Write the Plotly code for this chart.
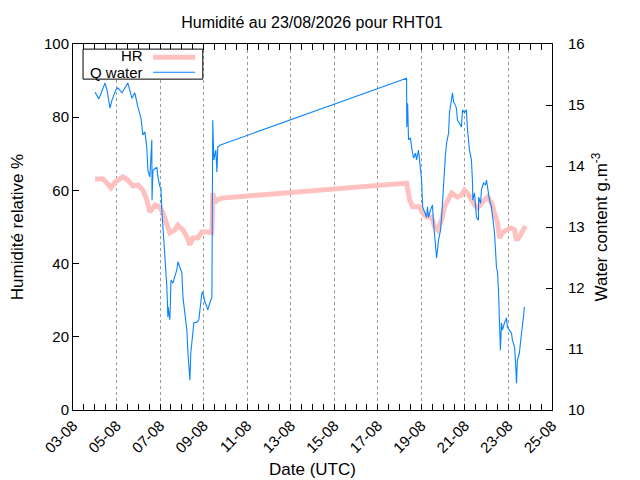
import numpy as np
import pandas as pd
import plotly.graph_objects as go

# jours d'aout (decimal) et valeurs
hr_day = [4.01, 4.38, 4.56, 4.74, 4.93, 5.29, 5.52, 5.75, 5.98, 6.21, 6.39, 6.53, 6.76,
          6.99, 7.13, 7.31, 7.45, 7.68, 7.82, 8.05, 8.23, 8.37, 8.50, 8.73, 8.92, 9.19,
          9.38, 9.42, 9.51, 9.61, 9.83,
          18.32, 18.37, 18.46, 18.60, 18.78, 18.92, 19.06, 19.24, 19.47, 19.61, 19.74,
          19.93, 20.06, 20.20, 20.39, 20.52, 20.66, 20.84, 20.98, 21.12, 21.30, 21.44,
          21.58, 21.76, 21.90, 22.04, 22.22, 22.36, 22.50, 22.59, 22.72, 22.91, 23.14,
          23.28, 23.37, 23.50, 23.64, 23.78]
hr = [63.1, 63.1, 62.0, 60.7, 62.3, 63.7, 62.8, 61.2, 61.5, 60.1, 57.4, 54.1, 56.0,
      55.5, 53.8, 51.1, 48.4, 49.2, 50.5, 49.2, 47.3, 45.1, 47.0, 47.0, 48.6, 48.6,
      48.4, 59.3, 56.6, 57.4, 57.9,
      62.0, 59.3, 57.4, 55.5, 55.5, 55.5, 53.8, 52.7, 52.7, 50.0, 49.2,
      51.9, 55.5, 57.4, 59.3, 58.7, 58.2, 58.7, 60.1, 59.3, 57.4, 56.0,
      55.2, 56.6, 57.4, 58.2, 56.6, 53.8, 51.1, 47.0, 48.4, 49.2, 49.7,
      49.2, 46.4, 47.3, 49.2, 50.3]

q_day = [4.01, 4.19, 4.47, 4.56, 4.70, 4.79, 4.97, 5.06, 5.25, 5.52, 5.71, 5.84, 5.98,
         6.12, 6.21, 6.30, 6.39, 6.44, 6.53, 6.62, 6.63, 6.67, 6.85, 6.90, 6.99, 7.04,
         7.08, 7.13, 7.22, 7.31, 7.36, 7.37, 7.45, 7.50, 7.59, 7.68, 7.77, 7.82, 7.91,
         8.00, 8.05, 8.14, 8.23, 8.28, 8.37, 8.41, 8.46, 8.55, 8.69, 8.78, 8.83, 8.92,
         8.96, 9.06, 9.15, 9.19, 9.28, 9.38, 9.39, 9.42, 9.47, 9.56, 9.61, 9.65, 9.74,
         18.32, 18.33, 18.37, 18.41, 18.50, 18.55, 18.60, 18.64, 18.73, 18.78, 18.87,
         18.92, 19.01, 19.06, 19.15, 19.24, 19.28, 19.33, 19.42, 19.51, 19.56, 19.65,
         19.70, 19.79, 19.88, 19.93, 19.97, 20.02, 20.11, 20.16, 20.25, 20.29, 20.39,
         20.43, 20.48, 20.52, 20.61, 20.66, 20.75, 20.84, 20.89, 20.98, 21.07, 21.12,
         21.21, 21.30, 21.35, 21.36, 21.44, 21.49, 21.53, 21.62, 21.63, 21.72, 21.76,
         21.85, 21.94, 21.99, 22.08, 22.13, 22.22, 22.27, 22.36, 22.45, 22.50, 22.54,
         22.59, 22.63, 22.68, 22.72, 22.82, 22.91, 22.95, 23.05, 23.14, 23.18, 23.28,
         23.32, 23.37, 23.41, 23.50, 23.60, 23.64, 23.69, 23.73]
q_water = [15.21, 15.10, 15.36, 15.25, 14.95, 15.08, 15.25, 15.28, 15.20, 15.36, 15.11, 15.20, 14.97,
           14.79, 14.51, 14.56, 14.31, 13.93, 13.82, 14.43, 13.44, 13.93, 13.98, 13.82, 13.66, 13.64,
           13.28, 13.00, 12.62, 12.02, 11.52, 11.69, 11.48, 12.13, 12.08, 12.18, 12.30, 12.43, 12.34,
           12.25, 11.85, 11.52, 11.31, 10.93, 10.49, 10.93, 11.15, 11.43, 11.44, 11.48, 11.64, 11.92,
           11.93, 11.77, 11.69, 11.64, 11.75, 11.85, 12.62, 14.75, 14.10, 14.26, 13.90, 14.31, 14.34,
           15.44, 14.64, 15.03, 14.43, 14.46, 14.31, 14.18, 14.13, 14.21, 14.10, 14.26,
           14.10, 13.77, 13.33, 13.23, 13.16, 13.33, 13.16, 13.28, 13.36, 13.07, 12.74,
           12.49, 12.79, 12.95, 13.16, 13.44, 13.82, 14.21, 14.38, 14.54, 14.87, 15.11,
           15.20, 15.05, 15.03, 14.95, 14.75, 14.70, 14.64, 14.92, 14.87, 14.92, 14.59,
           14.26, 14.10, 13.72, 13.44, 13.56, 13.33, 13.16, 13.11, 13.49, 13.39, 13.61,
           13.72, 13.69, 13.77, 13.56, 13.44, 13.33, 13.16, 12.90, 12.34, 12.25, 11.97,
           11.48, 10.98, 11.43, 11.31, 11.43, 11.51, 11.36, 11.31, 11.26, 11.15, 11.03,
           10.82, 10.44, 10.82, 10.93, 11.26, 11.36, 11.52, 11.69]

base = pd.Timestamp("2026-08-01")
hr_t = base + pd.to_timedelta(np.array(hr_day) - 1, unit="D")
q_t = base + pd.to_timedelta(np.array(q_day) - 1, unit="D")

font = "Liberation Sans, Arial, sans-serif"
pink = "#ffc0c0"
blue = "#0a84ff"
tickfont = dict(family=font, size=15, color="black")
keyfont = dict(family=font, size=15, color="black")

fig = go.Figure()
fig.add_trace(go.Scatter(x=hr_t, y=hr, mode="lines", name="HR",
                         line=dict(color=pink, width=5)))
fig.add_trace(go.Scatter(x=q_t, y=q_water, mode="lines", name="Q water", yaxis="y2",
                         line=dict(color=blue, width=1.1)))

fig.update_layout(
    width=640, height=480,
    paper_bgcolor="white", plot_bgcolor="white",
    margin=dict(l=65, r=96, t=36, b=78, autoexpand=False),
    showlegend=False,
    font=dict(family=font, size=14, color="black"),
    title=dict(text="Humidité au 23/08/2026 pour RHT01", x=0.475, xanchor="center",
               y=0.971, yanchor="middle", font=dict(family=font, size=16, color="black")),
    xaxis=dict(
        range=["2026-08-03", "2026-08-25"], type="date",
        tick0="2026-08-03", dtick=2 * 86400000, tickformat="%d-%m", tickangle=-45,
        tickfont=tickfont,
        ticks="inside", ticklen=6, tickcolor="black",
        showline=True, linecolor="black", linewidth=1, mirror="allticks",
        showgrid=True, gridcolor="#999999", griddash="dot", gridwidth=1,
        minor=dict(dtick=12 * 3600000, ticks="inside", ticklen=3, tickcolor="black", showgrid=False),
        title=dict(text="Date (UTC)", standoff=8),
        zeroline=False, automargin=False,
    ),
    yaxis=dict(
        range=[0, 100], dtick=20, tickfont=tickfont,
        ticks="inside", ticklen=6, tickcolor="black",
        showline=True, linecolor="black", linewidth=1, showgrid=False, zeroline=False,
        title=dict(text="Humidité relative %", standoff=22), automargin=False,
    ),
    yaxis2=dict(
        range=[10, 16], dtick=1, overlaying="y", side="right", tickfont=tickfont,
        ticks="inside", ticklen=6, tickcolor="black", ticklabelstandoff=12,
        showline=True, linecolor="black", linewidth=1, showgrid=False, zeroline=False,
        title=dict(text="Water content g.m<sup>-3</sup>", standoff=11),
        automargin=False,
    ),
)

# legende facon gnuplot : texte puis echantillon, dans un cadre
fig.add_shape(type="rect", xref="paper", yref="paper", x0=0.021, x1=0.271, y0=0.904, y1=0.986,
              line=dict(color="black", width=1), fillcolor="white")
fig.add_shape(type="line", xref="paper", yref="paper", x0=0.167, x1=0.255, y0=0.964, y1=0.964,
              line=dict(color=pink, width=5))
fig.add_shape(type="line", xref="paper", yref="paper", x0=0.167, x1=0.255, y0=0.923, y1=0.923,
              line=dict(color=blue, width=1.1))
fig.add_annotation(text="HR", xref="paper", yref="paper", x=0.150, y=0.968,
                   xanchor="right", yanchor="middle", showarrow=False, font=keyfont)
fig.add_annotation(text="Q water", xref="paper", yref="paper", x=0.150, y=0.921,
                   xanchor="right", yanchor="middle", showarrow=False, font=keyfont)

fig.write_html("out.html")
